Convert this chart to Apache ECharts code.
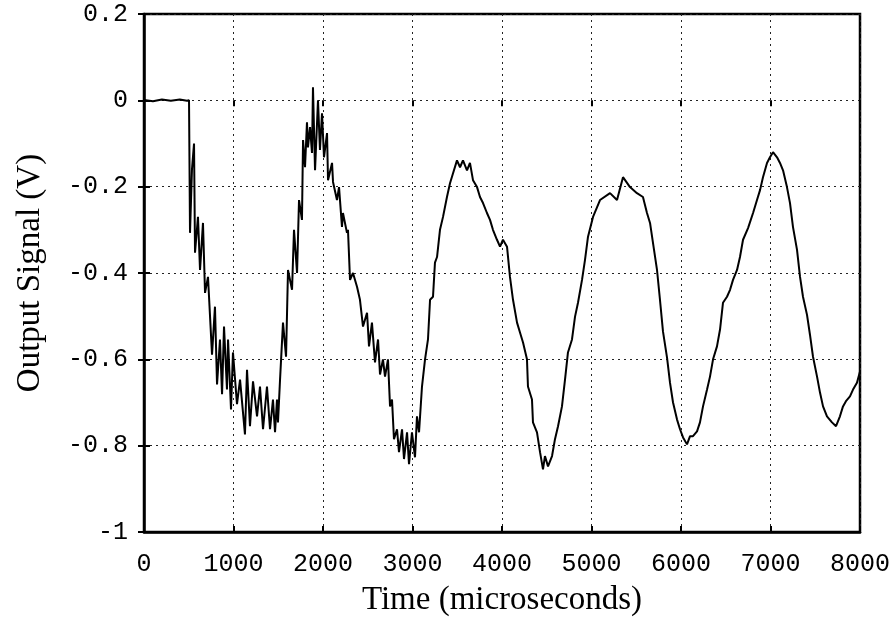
<!DOCTYPE html>
<html>
<head>
<meta charset="utf-8">
<script src="https://cdn.jsdelivr.net/npm/echarts@6/dist/echarts.min.js"></script>
<style>
html,body{margin:0;padding:0;background:#fff;}
#chart{width:895px;height:617px;}
</style>
</head>
<body>
<div id="chart"></div>
<script>
// Time in microseconds
var timeUs = [
0,100,200,300,400,480,503,
514,536,559,570,603,626,659,682,715,760,793,816,849,872,894,927,939,972,994,
1039,1073,1128,1151,1184,1218,1263,1296,1330,1374,1408,1441,1464,1486,1497,
1520,1553,1587,1609,1631,1654,1676,1710,1732,1765,1777,1799,1821,1832,1855,1877,1888,1911,1944,1966,1989,
2011,2045,2056,2101,2112,2156,2179,2212,2223,2268,2279,2302,2335,2380,2413,2447,2492,2514,2547,2581,2615,2637,2670,2693,2726,2749,2771,2793,2827,2849,2883,2905,2939,2961,2994,
3028,3050,3073,3106,3140,3173,3196,3229,3251,3274,3307,3341,3385,3419,3453,3497,3531,3564,3609,3642,3676,3721,3754,3788,3832,3866,3899,3944,3978,
4011,4056,4089,4123,4168,4201,4235,4279,4290,4335,4346,4391,4425,4458,4480,4514,4559,4592,4626,4670,4704,4737,4782,4816,4849,4894,4927,4961,
5017,5095,5207,5285,5352,5430,5508,5575,5620,5654,5687,5732,5765,5799,5844,5877,5911,5955,5989,
6023,6067,6101,6134,6179,6212,6246,6291,6324,6358,6402,6436,6469,6514,6548,6581,6626,6659,6693,6749,6805,6849,6883,6916,6961,6994,
7028,7073,7106,7140,7184,7218,7251,7296,7330,7363,7408,7441,7475,7520,7553,7587,7631,7687,7732,7776,7810,7843,7888,7922,7966,8000
];
// Output signal in volts
var signalV = [
0.001,-0.002,0.002,-0.001,0.002,-0.001,0.000,
-0.307,-0.160,-0.100,-0.353,-0.270,-0.393,-0.284,-0.446,-0.409,-0.589,-0.478,-0.658,-0.554,-0.681,-0.524,-0.670,-0.554,-0.716,-0.584,
-0.704,-0.647,-0.774,-0.624,-0.755,-0.651,-0.732,-0.663,-0.762,-0.663,-0.762,-0.693,-0.769,-0.693,-0.746,
-0.647,-0.515,-0.594,-0.393,-0.397,-0.439,-0.300,-0.400,-0.231,-0.277,-0.092,-0.155,-0.051,-0.109,-0.062,-0.122,0.030,-0.162,0.000,-0.115,-0.030,
-0.132,-0.076,-0.185,-0.145,-0.189,-0.231,-0.201,-0.293,-0.261,-0.307,-0.300,-0.416,-0.400,-0.432,-0.462,-0.524,-0.492,-0.570,-0.515,-0.607,-0.554,-0.635,-0.600,-0.640,-0.600,-0.709,-0.693,-0.785,-0.762,-0.815,-0.762,-0.831,-0.769,-0.843,-0.769,
-0.827,-0.732,-0.769,-0.663,-0.600,-0.554,-0.462,-0.455,-0.376,-0.363,-0.300,-0.270,-0.224,-0.192,-0.169,-0.139,-0.155,-0.139,-0.162,-0.145,-0.185,-0.201,-0.224,-0.238,-0.261,-0.277,-0.300,-0.323,-0.339,
-0.323,-0.339,-0.409,-0.462,-0.515,-0.538,-0.561,-0.600,-0.663,-0.693,-0.746,-0.769,-0.815,-0.855,-0.824,-0.848,-0.824,-0.785,-0.755,-0.709,-0.647,-0.584,-0.554,-0.501,-0.469,-0.416,-0.370,-0.316,
-0.270,-0.231,-0.215,-0.231,-0.178,-0.201,-0.215,-0.224,-0.261,-0.284,-0.330,-0.393,-0.462,-0.536,-0.596,-0.654,-0.700,-0.739,-0.762,
-0.781,-0.797,-0.778,-0.778,-0.767,-0.746,-0.709,-0.670,-0.640,-0.600,-0.570,-0.531,-0.469,-0.455,-0.439,-0.416,-0.393,-0.363,-0.323,-0.296,-0.261,-0.231,-0.208,-0.178,-0.145,-0.132,
-0.120,-0.132,-0.145,-0.162,-0.201,-0.238,-0.293,-0.346,-0.409,-0.455,-0.497,-0.543,-0.594,-0.640,-0.677,-0.709,-0.732,-0.746,-0.755,-0.732,-0.709,-0.697,-0.686,-0.670,-0.654,-0.628
];
var xTitle = 'Time (microseconds)';
var yTitle = 'Output Signal (V)';
var xMin = 0, xMax = 8000, xStep = 1000;
var yMin = -1, yMax = 0.2, yStep = 0.2;

var seriesData = timeUs.map(function (t, i) { return [t, signalV[i]]; });

var monoFont = '"Liberation Mono", "DejaVu Sans Mono", monospace';
var serifFont = '"Liberation Serif", "DejaVu Serif", serif';
var gridLine = { show: true, lineStyle: { color: '#222', width: 1, type: [2, 4] } };

var chart = echarts.init(document.getElementById('chart'), null, { renderer: 'canvas' });
chart.setOption({
  animation: false,
  backgroundColor: '#fff',
  grid: { left: 144, top: 14, width: 716, height: 518, show: true, borderColor: '#000', borderWidth: 2.5,
    backgroundColor: 'transparent', containLabel: false, outerBoundsMode: 'none' },
  xAxis: [{
    type: 'value', min: xMin, max: xMax, interval: xStep,
    name: xTitle, nameLocation: 'middle', nameGap: 52,
    nameTextStyle: { fontFamily: serifFont, fontSize: 33, color: '#000' },
    axisLine: { show: true, onZero: false, lineStyle: { color: '#000', width: 2.5 } },
    axisTick: { show: true, inside: true, length: 6, lineStyle: { color: '#000', width: 2 } },
    axisLabel: { fontFamily: monoFont, fontSize: 25, color: '#000', margin: 20,
      formatter: function (v) { return String(v); } },
    splitLine: gridLine
  }, {
    type: 'value', min: xMin, max: xMax, interval: xStep, position: 'top',
    axisLine: { show: false },
    axisTick: { show: true, inside: true, length: 6, lineStyle: { color: '#000', width: 2 } },
    axisLabel: { show: false }, splitLine: { show: false }
  }],
  yAxis: [{
    type: 'value', min: yMin, max: yMax, interval: yStep,
    name: yTitle, nameLocation: 'middle', nameGap: 97, nameRotate: 90,
    nameTextStyle: { fontFamily: serifFont, fontSize: 33, color: '#000' },
    axisLine: { show: true, onZero: false, lineStyle: { color: '#000', width: 2.5 } },
    axisTick: { show: true, inside: true, length: 6, lineStyle: { color: '#000', width: 2 } },
    axisLabel: { fontFamily: monoFont, fontSize: 25, color: '#000', margin: 16,
      formatter: function (v) { return String(Math.round(v * 10) / 10); } },
    splitLine: gridLine
  }, {
    type: 'value', min: yMin, max: yMax, interval: yStep, position: 'right',
    axisLine: { show: false },
    axisTick: { show: true, inside: true, length: 6, lineStyle: { color: '#000', width: 2 } },
    axisLabel: { show: false }, splitLine: { show: false }
  }],
  series: [{
    type: 'line', xAxisIndex: 0, yAxisIndex: 0,
    data: seriesData, showSymbol: false, symbol: 'none',
    lineStyle: { color: '#000', width: 2 },
    clip: true
  }]
});
</script>
</body>
</html>
